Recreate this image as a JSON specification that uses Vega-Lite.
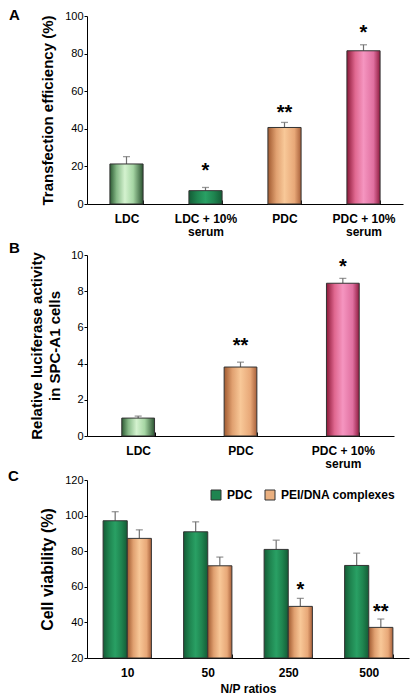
{
  "$schema": "https://vega.github.io/schema/vega-lite/v6.json",
  "padding": {"left": 8, "top": 8, "right": 5, "bottom": 0},
  "bounds": "flush",
  "spacing": 51,
  "resolve": {"scale": {"fill": "independent", "x": "independent", "y": "independent"}, "legend": {"fill": "independent"}, "axis": {"x": "independent", "y": "independent"}},
  "config": {
    "font": "Liberation Sans",
    "view": {"stroke": null},
    "axis": {"domainColor": "#000", "tickColor": "#000", "labelColor": "#000", "titleColor": "#000", "grid": false, "labelFont": "Liberation Sans", "titleFont": "Liberation Sans", "labelOverlap": false},
    "title": {"font": "Liberation Sans", "color": "#000"}
  },
  "vconcat": [
    {
      "width": 316,
      "height": 188,
      "title": {"text": "A", "anchor": "start", "frame": "group", "dx": -78, "dy": 25, "offset": 0, "baseline": "alphabetic", "fontSize": 15, "fontWeight": "bold"},
      "data": {"values": [
        {"group": "LDC", "value": 21.3, "upper": 25.2},
        {"group": "LDC + 10% serum", "value": 7.1, "upper": 8.8, "star": "*", "starY": 20.7},
        {"group": "PDC", "value": 40.7, "upper": 43.4, "star": "**", "starY": 51.1},
        {"group": "PDC + 10% serum", "value": 81.5, "upper": 84.7, "star": "*", "starY": 94.0}
      ]},
      "encoding": {
        "x": {"field": "group", "type": "nominal", "sort": null,
          "scale": {"paddingInner": 0.58, "paddingOuter": 0.29},
          "axis": {"title": null, "labelAngle": 0, "labelFontSize": 12, "labelFontWeight": "bold", "tickBand": "extent", "tickSize": -4, "labelPadding": 13, "labelLineHeight": 13.4,
            "labelExpr": "indexof(datum.label, ' serum') > 0 ? [replace(datum.label, ' serum', ''), 'serum'] : datum.label"}},
        "y": {"field": "value", "type": "quantitative",
          "scale": {"domain": [0, 100], "nice": false},
          "axis": {"title": "Transfection efficiency (%)", "values": [0, 20, 40, 60, 80, 100], "tickSize": 3, "labelPadding": 1, "labelFontSize": 11, "titleFontSize": 15, "titleFontWeight": "bold", "titlePadding": 9}}
      },
      "layer": [
        {"mark": {"type": "rule", "color": "#707070", "strokeWidth": 1.2},
         "encoding": {"y2": {"field": "upper"}}},
        {"mark": {"type": "tick", "color": "#707070", "thickness": 1.3, "size": 7},
         "encoding": {"y": {"field": "upper", "type": "quantitative"}}},
        {"mark": {"type": "bar", "stroke": "#333", "strokeWidth": 1},
         "encoding": {
           "fill": {
             "condition": [
               {"test": "datum.group == 'LDC'", "value": {"gradient": "linear", "x1": 0, "y1": 0, "x2": 1, "y2": 0, "stops": [{"offset": 0, "color": "#2d5a34"}, {"offset": 0.2, "color": "#86b987"}, {"offset": 0.45, "color": "#d4f2cf"}, {"offset": 0.7, "color": "#a6d6a4"}, {"offset": 1, "color": "#2a5230"}]}},
               {"test": "datum.group == 'LDC + 10% serum'", "value": {"gradient": "linear", "x1": 0, "y1": 0, "x2": 1, "y2": 0, "stops": [{"offset": 0, "color": "#145c36"}, {"offset": 0.25, "color": "#1f8550"}, {"offset": 0.5, "color": "#29a064"}, {"offset": 0.75, "color": "#1f8550"}, {"offset": 1, "color": "#145c36"}]}},
               {"test": "datum.group == 'PDC'", "value": {"gradient": "linear", "x1": 0, "y1": 0, "x2": 1, "y2": 0, "stops": [{"offset": 0, "color": "#a05a30"}, {"offset": 0.25, "color": "#e0a070"}, {"offset": 0.5, "color": "#f8c898"}, {"offset": 0.8, "color": "#e8a878"}, {"offset": 1, "color": "#a8603a"}]}}
             ],
             "value": {"gradient": "linear", "x1": 0, "y1": 0, "x2": 1, "y2": 0, "stops": [{"offset": 0, "color": "#8c1838"}, {"offset": 0.25, "color": "#e06890"}, {"offset": 0.5, "color": "#f595c0"}, {"offset": 0.8, "color": "#e070a0"}, {"offset": 1, "color": "#901c40"}]}
           }
         }},
        {"transform": [{"filter": "datum.star != null"}],
         "mark": {"type": "text", "fontSize": 20, "fontWeight": "bold", "baseline": "middle", "dy": 5.5, "color": "#000"},
         "encoding": {"y": {"field": "starY", "type": "quantitative"}, "text": {"field": "star"}}}
      ]
    },
    {
      "bounds": "flush",
      "spacing": 44,
      "resolve": {"scale": {"fill": "independent", "x": "independent", "y": "independent"}, "legend": {"fill": "independent"}, "axis": {"x": "independent", "y": "independent"}},
      "vconcat": [
        {
          "width": 307,
          "height": 181,
          "title": {"text": "B", "anchor": "start", "frame": "group", "dx": -78, "dy": 19, "offset": 0, "baseline": "alphabetic", "fontSize": 15, "fontWeight": "bold"},
          "data": {"values": [
            {"group": "LDC", "value": 0.99, "upper": 1.1},
            {"group": "PDC", "value": 3.81, "upper": 4.08, "star": "**", "starY": 5.28},
            {"group": "PDC + 10% serum", "value": 8.44, "upper": 8.71, "star": "*", "starY": 9.65}
          ]},
          "encoding": {
            "x": {"field": "group", "type": "nominal", "sort": null,
              "scale": {"paddingInner": 0.68, "paddingOuter": 0.34},
              "axis": {"title": null, "labelAngle": 0, "labelFontSize": 12, "labelFontWeight": "bold", "tickBand": "extent", "tickSize": -4, "labelPadding": 13, "labelLineHeight": 13.4,
                "labelExpr": "indexof(datum.label, ' serum') > 0 ? [replace(datum.label, ' serum', ''), 'serum'] : datum.label"}},
            "y": {"field": "value", "type": "quantitative",
              "scale": {"domain": [0, 10], "nice": false},
              "axis": {"title": ["Relative luciferase activity", "in SPC-A1 cells"], "values": [0, 2, 4, 6, 8, 10], "tickSize": 3, "labelPadding": 1, "labelFontSize": 11, "titleFontSize": 15, "titleFontWeight": "bold", "titlePadding": 8, "titleLineHeight": 18}}
          },
          "layer": [
            {"mark": {"type": "rule", "color": "#707070", "strokeWidth": 1.2},
             "encoding": {"y2": {"field": "upper"}}},
            {"mark": {"type": "tick", "color": "#707070", "thickness": 1.3, "size": 7},
             "encoding": {"y": {"field": "upper", "type": "quantitative"}}},
            {"mark": {"type": "bar", "stroke": "#333", "strokeWidth": 1},
             "encoding": {
               "fill": {
                 "condition": [
                   {"test": "datum.group == 'LDC'", "value": {"gradient": "linear", "x1": 0, "y1": 0, "x2": 1, "y2": 0, "stops": [{"offset": 0, "color": "#2d5a34"}, {"offset": 0.2, "color": "#86b987"}, {"offset": 0.45, "color": "#d4f2cf"}, {"offset": 0.7, "color": "#a6d6a4"}, {"offset": 1, "color": "#2a5230"}]}},
                   {"test": "datum.group == 'PDC'", "value": {"gradient": "linear", "x1": 0, "y1": 0, "x2": 1, "y2": 0, "stops": [{"offset": 0, "color": "#a05a30"}, {"offset": 0.25, "color": "#e0a070"}, {"offset": 0.5, "color": "#f8c898"}, {"offset": 0.8, "color": "#e8a878"}, {"offset": 1, "color": "#a8603a"}]}}
                 ],
                 "value": {"gradient": "linear", "x1": 0, "y1": 0, "x2": 1, "y2": 0, "stops": [{"offset": 0, "color": "#8c1838"}, {"offset": 0.25, "color": "#e06890"}, {"offset": 0.5, "color": "#f595c0"}, {"offset": 0.8, "color": "#e070a0"}, {"offset": 1, "color": "#901c40"}]}
               }
             }},
            {"transform": [{"filter": "datum.star != null"}],
             "mark": {"type": "text", "fontSize": 20, "fontWeight": "bold", "baseline": "middle", "dy": 5.5, "color": "#000"},
             "encoding": {"y": {"field": "starY", "type": "quantitative"}, "text": {"field": "star"}}}
          ]
        },
        {
          "width": 322,
          "height": 178,
          "title": {"text": "C", "anchor": "start", "frame": "group", "dx": -79, "dy": 22, "offset": 0, "baseline": "alphabetic", "fontSize": 15, "fontWeight": "bold"},
          "data": {"values": [
            {"ratio": "10", "series": "PDC", "value": 97.1, "upper": 102.2},
            {"ratio": "10", "series": "PEI/DNA complexes", "value": 87.2, "upper": 92.0},
            {"ratio": "50", "series": "PDC", "value": 90.9, "upper": 96.5},
            {"ratio": "50", "series": "PEI/DNA complexes", "value": 71.8, "upper": 76.7},
            {"ratio": "250", "series": "PDC", "value": 81.0, "upper": 86.2},
            {"ratio": "250", "series": "PEI/DNA complexes", "value": 49.0, "upper": 53.5, "star": "*", "starY": 61.4},
            {"ratio": "500", "series": "PDC", "value": 72.0, "upper": 78.9},
            {"ratio": "500", "series": "PEI/DNA complexes", "value": 37.2, "upper": 41.9, "star": "**", "starY": 48.8}
          ]},
          "encoding": {
            "x": {"field": "ratio", "type": "nominal", "sort": ["10", "50", "250", "500"],
              "scale": {"paddingInner": 0.4, "paddingOuter": 0.2},
              "axis": {"title": "N/P ratios", "titleFontSize": 12, "titleFontWeight": "bold", "titlePadding": 5, "labelAngle": 0, "labelFontSize": 12, "labelFontWeight": "bold", "tickBand": "extent", "tickSize": -4, "labelPadding": 13}},
            "xOffset": {"field": "series", "type": "nominal", "sort": ["PDC", "PEI/DNA complexes"], "scale": {"paddingInner": 0, "paddingOuter": 0}},
            "y": {"field": "value", "type": "quantitative",
              "scale": {"domain": [20, 120], "nice": false, "zero": false},
              "axis": {"title": "Cell viability (%)", "values": [20, 40, 60, 80, 100, 120], "tickSize": 3, "labelPadding": 1, "labelFontSize": 11, "titleFontSize": 16, "titleFontWeight": "bold", "titlePadding": 9}}
          },
          "layer": [
            {"mark": {"type": "rule", "color": "#707070", "strokeWidth": 1.2},
             "encoding": {"y2": {"field": "upper"}}},
            {"mark": {"type": "tick", "color": "#707070", "thickness": 1.3, "size": 7},
             "encoding": {"y": {"field": "upper", "type": "quantitative"}}},
            {"mark": {"type": "bar", "stroke": "#333", "strokeWidth": 1},
             "encoding": {
               "y2": {"datum": 20},
               "fill": {"field": "series", "type": "nominal",
                 "scale": {"domain": ["PDC", "PEI/DNA complexes"], "range": ["#1f8550", "#eab080"]},
                 "condition": [
                   {"test": "datum.series == 'PDC'", "value": {"gradient": "linear", "x1": 0, "y1": 0, "x2": 1, "y2": 0, "stops": [{"offset": 0, "color": "#145c36"}, {"offset": 0.25, "color": "#1f8550"}, {"offset": 0.5, "color": "#29a064"}, {"offset": 0.75, "color": "#1f8550"}, {"offset": 1, "color": "#145c36"}]}},
                   {"test": "datum.series != 'PDC'", "value": {"gradient": "linear", "x1": 0, "y1": 0, "x2": 1, "y2": 0, "stops": [{"offset": 0, "color": "#a05a30"}, {"offset": 0.25, "color": "#e0a070"}, {"offset": 0.5, "color": "#f8c898"}, {"offset": 0.8, "color": "#e8a878"}, {"offset": 1, "color": "#a8603a"}]}}
                 ],
                 "legend": {"orient": "none", "legendX": 123, "legendY": 9, "direction": "horizontal", "title": null, "symbolType": "square", "symbolSize": 100, "labelFontSize": 12, "labelFontWeight": "bold", "labelColor": "#000", "symbolStrokeColor": "#333", "symbolStrokeWidth": 1, "columnPadding": 10, "labelOffset": 5, "padding": 0}}
             }},
            {"transform": [{"filter": "datum.star != null"}],
             "mark": {"type": "text", "fontSize": 20, "fontWeight": "bold", "baseline": "middle", "dy": 5.5, "color": "#000"},
             "encoding": {"y": {"field": "starY", "type": "quantitative"}, "text": {"field": "star"}}}
          ]
        }
      ]
    }
  ]
}
